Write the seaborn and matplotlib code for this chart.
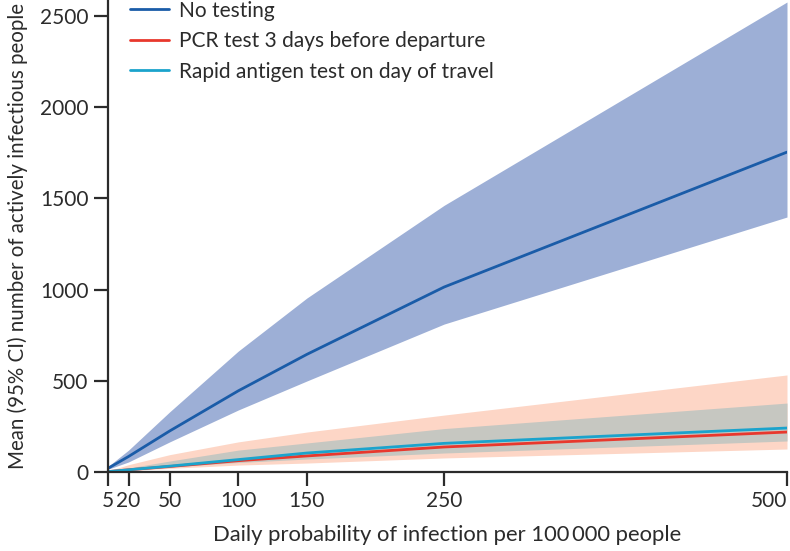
import matplotlib
matplotlib.use("Agg")
import matplotlib.pyplot as plt
import pandas as pd
import seaborn as sns

# daily probability of infection per 100 000 people
x_vals = [5, 20, 50, 100, 150, 250, 500]

no_test_mean = [20, 85, 225, 445, 645, 1014, 1754]
no_test_low = [15, 55, 165, 340, 499, 811, 1398]
no_test_high = [30, 120, 330, 663, 954, 1462, 2577]

pcr_mean = [2, 12, 30, 62, 88, 137, 219]
pcr_low = [1, 8, 20, 38, 49, 77, 126]
pcr_high = [5, 40, 95, 165, 219, 312, 532]

rat_mean = [2, 12, 32, 68, 104, 157, 241]
rat_low = [1, 10, 28, 52, 71, 104, 170]
rat_high = [3, 22, 60, 120, 159, 238, 378]

labels = ["No testing", "PCR test 3 days before departure",
          "Rapid antigen test on day of travel"]

df = pd.DataFrame({
    "x": x_vals * 3,
    "mean": no_test_mean + pcr_mean + rat_mean,
    "strategy": [labels[0]] * 7 + [labels[1]] * 7 + [labels[2]] * 7,
})

sns.set_style("ticks")
plt.rcParams["font.family"] = ["Lato", "DejaVu Sans"]
text_col = "#2b2b2b"

fig = plt.figure(figsize=(7.9, 5.51), dpi=100)
ax = fig.add_axes([0.1367, 0.1434, 0.8595, 0.8566])

ax.fill_between(x_vals, no_test_low, no_test_high, color="#9dafd6", lw=0)
ax.fill_between(x_vals, pcr_low, pcr_high, color="#fdd6c6", lw=0)
ax.fill_between(x_vals, rat_low, rat_high, color="#c6c7c1", lw=0)

palette = {labels[0]: "#1a5ca8", labels[1]: "#e8382d", labels[2]: "#1ba3cc"}
sns.lineplot(data=df, x="x", y="mean", hue="strategy", palette=palette,
             hue_order=labels, linewidth=2, ax=ax)

ax.set_xlim(5, 500)
ax.set_ylim(0, 2588)
ax.set_xticks([5, 20, 50, 100, 150, 250, 500])
ax.set_yticks([0, 500, 1000, 1500, 2000, 2500])
ax.tick_params(direction="out", length=10, width=1.6, labelsize=15,
               colors=text_col, pad=4)
# last tick label would be cut at the figure edge
ax.get_xticklabels()[-1].set_horizontalalignment("right")
for s in ["left", "bottom"]:
    ax.spines[s].set_linewidth(1.6)
    ax.spines[s].set_color(text_col)
sns.despine(ax=ax)

ax.set_xlabel("Daily probability of infection per 100\u2009000 people",
              fontsize=15.8, color=text_col, labelpad=10)
ax.set_ylabel("Mean (95% CI) number of actively infectious people",
              fontsize=14.8, color=text_col, labelpad=9)

leg = ax.legend(loc="upper left", bbox_to_anchor=(0.02, 1.016), frameon=False,
                fontsize=15, handlelength=1.9, handletextpad=0.45,
                labelspacing=0.5, borderaxespad=0)
for t in leg.get_texts():
    t.set_color(text_col)

plt.savefig("out.png", dpi=100)
